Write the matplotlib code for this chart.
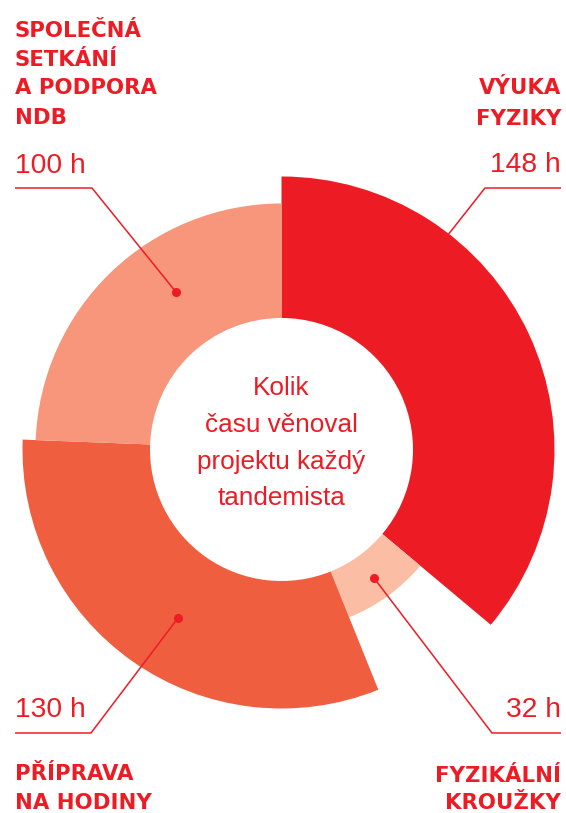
"""Donut chart: time spent on the project per tandem member."""
import matplotlib
matplotlib.use("Agg")
import matplotlib.pyplot as plt
from matplotlib.patches import Wedge

# data, clockwise from 12 o'clock
categories = ["VÝUKA\nFYZIKY", "FYZIKÁLNÍ\nKROUŽKY", "PŘÍPRAVA\nNA HODINY",
              "SPOLEČNÁ\nSETKÁNÍ\nA PODPORA\nNDB"]
hours = [148, 32, 130, 100]
value_labels = [f"{h} h" for h in hours]
center_lines = ["Kolik", "času věnoval", "projektu každý", "tandemista"]

# styling
colors = ["#ED1C24", "#FBBEA4", "#F05E40", "#F7967A"]
outer_r = [273, 181, 259, 246]
inner_r = 131.5
RED = "#ED1C24"
W, H = 566, 813
cx, cy = 281.5, H - 449.5

plt.rcParams["font.family"] = ["Liberation Sans", "DejaVu Sans"]

fig = plt.figure(figsize=(W / 100, H / 100), dpi=100)
ax = fig.add_axes([0, 0, 1, 1])
ax.set_xlim(0, W)
ax.set_ylim(0, H)
ax.set_aspect("equal")
ax.axis("off")

total = sum(hours)
start = 90.0
for val, col, r in zip(hours, colors, outer_r):
    sweep = val / total * 360.0
    ax.add_patch(Wedge((cx, cy), r, start - sweep, start, width=r - inner_r,
                       facecolor=col, edgecolor="none", zorder=1))
    start -= sweep

# center text
for line, base in zip(center_lines, [395, 432, 469, 505]):
    ax.text(cx, H - base, line, ha="center", va="baseline",
            fontsize=18.8, color=RED)


def leader(points, dot=True):
    xs = [p[0] for p in points]
    ys = [H - p[1] for p in points]
    ax.plot(xs, ys, color=RED, lw=1.1, zorder=3, solid_capstyle="butt")
    if dot:
        ax.plot(xs[-1], ys[-1], "o", color=RED, ms=5.5, zorder=3)


def block(lines, x, baselines, ha):
    for line, base in zip(lines, baselines):
        ax.text(x, H - base, line, ha=ha, va="baseline", fontsize=15.3,
                fontweight="bold", color=RED, family="DejaVu Sans")


# VÝUKA FYZIKY (top right)
block(categories[0].split("\n"), 561, [94, 125], "right")
ax.text(561, H - 172, value_labels[0], ha="right", va="baseline", fontsize=20.3, color=RED)
leader([(561, 188), (485, 188), (440, 245)], dot=False)

# FYZIKÁLNÍ KROUŽKY (bottom right)
block(categories[1].split("\n"), 561, [782, 809], "right")
ax.text(561, H - 717, value_labels[1], ha="right", va="baseline", fontsize=20.3, color=RED)
leader([(561, 733), (492, 733), (374, 578)])

# PŘÍPRAVA NA HODINY (bottom left)
block(categories[2].split("\n"), 15, [780, 809], "left")
ax.text(15, H - 717, value_labels[2], ha="left", va="baseline", fontsize=20.3, color=RED)
leader([(15, 733), (91, 733), (178, 618)])

# SPOLEČNÁ SETKÁNÍ A PODPORA NDB (top left)
block(categories[3].split("\n"), 15, [37, 66, 94, 124], "left")
ax.text(15, H - 173, value_labels[3], ha="left", va="baseline", fontsize=20.3, color=RED)
leader([(15, 188), (92, 188), (176, 292)])

fig.savefig("out.png", dpi=100)
